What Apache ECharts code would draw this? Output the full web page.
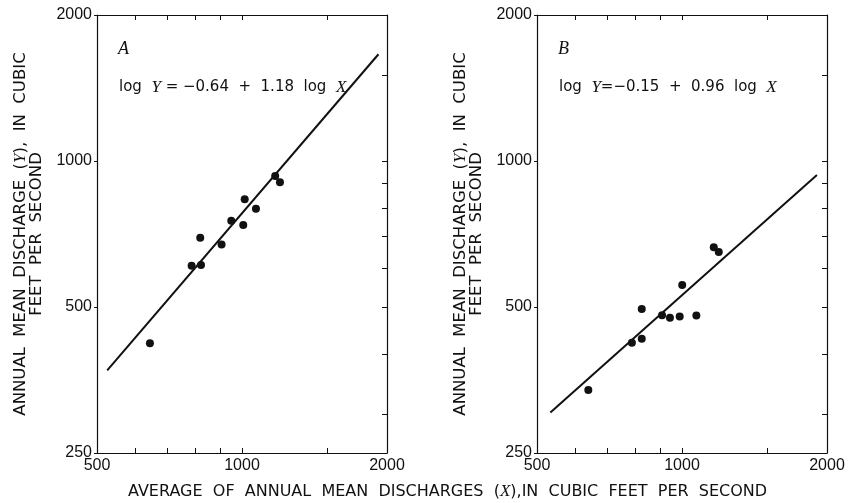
<!DOCTYPE html>
<html lang="en">
<head>
    <meta charset="UTF-8">
    <title>Annual mean discharge vs average of annual mean discharges</title>
    <script src="https://cdn.jsdelivr.net/npm/echarts@6/dist/echarts.min.js"></script>
    <style>
        body { margin: 0; padding: 0; background: #fff; }
        #main { width: 848px; height: 503px; }
    </style>
</head>
<body>
    <div id="main"></div>
    <script>
        // panel A points (X, Y) in cfs
        const pointsA = [
            [644, 421], [786, 608], [822, 610], [819, 695], [907, 673], [950, 753],
            [1006, 738], [1013, 834], [1069, 797], [1172, 931], [1199, 904]
        ];
        // panel B points
        const pointsB = [
            [639, 337], [787, 422], [825, 430], [825, 495], [909, 481], [944, 475],
            [989, 478], [1001, 555], [1071, 480], [1164, 664], [1192, 649]
        ];
        // fitted lines, ends as drawn
        const lineA = [[525, 370], [1920, 1660]];
        const lineB = [[533, 303], [1906, 936]];

        const xRange = [500, 2000];
        const yRange = [250, 2000];
        const xLabels = [500, 1000, 2000];
        const xTicks = [600, 700, 800, 900, 1000, 1500];
        const yLabels = [250, 500, 1000, 2000];
        const yTicks = [300, 400, 500, 600, 700, 800, 900, 1000, 1500];

        const ink = '#111';
        const numFont = 'Liberation Sans';
        const titleFont = 'DejaVu Sans';

        const yName = '{n|ANNUAL  MEAN  DISCHARGE  (}{i|Y}{n|),  IN  CUBIC}\n{n|FEET  PER  SECOND}';
        const nameRich = {
            n: { fontFamily: titleFont, fontSize: 16.5, color: ink, lineHeight: 16 },
            i: { fontFamily: 'Liberation Serif', fontStyle: 'italic', fontSize: 17, color: ink, lineHeight: 16 }
        };
        const plain = v => String(v);

        function xAxes(grid) {
            return [
                {
                    gridIndex: grid, type: 'log', logBase: 10, min: xRange[0], max: xRange[1],
                    axisLine: { lineStyle: { color: ink, width: 1.2 } },
                    axisTick: { inside: true, length: 5, customValues: xTicks, lineStyle: { color: ink } },
                    axisLabel: { customValues: xLabels, formatter: plain, color: ink, fontFamily: numFont, fontSize: 16, margin: 5 },
                    splitLine: { show: false }
                },
                {
                    gridIndex: grid, type: 'log', logBase: 10, min: xRange[0], max: xRange[1], position: 'top',
                    axisLine: { lineStyle: { color: ink, width: 1.2 } },
                    axisTick: { inside: true, length: 5, customValues: xTicks, lineStyle: { color: ink } },
                    axisLabel: { show: false }, splitLine: { show: false }
                }
            ];
        }
        function yAxes(grid) {
            return [
                {
                    gridIndex: grid, type: 'log', logBase: 10, min: yRange[0], max: yRange[1],
                    name: yName, nameLocation: 'middle', nameRotate: 90, nameGap: 52,
                    nameTextStyle: { rich: nameRich, align: 'center' },
                    axisLine: { lineStyle: { color: ink, width: 1.2 } },
                    axisTick: { inside: false, length: 3, customValues: yLabels, lineStyle: { color: ink } },
                    axisLabel: { customValues: yLabels, formatter: plain, color: ink, fontFamily: numFont, fontSize: 16, margin: 5 },
                    splitLine: { show: false }
                },
                {
                    gridIndex: grid, type: 'log', logBase: 10, min: yRange[0], max: yRange[1], position: 'right',
                    axisLine: { lineStyle: { color: ink, width: 1.2 } },
                    axisTick: { inside: true, length: 5, customValues: yTicks, lineStyle: { color: ink } },
                    axisLabel: { show: false }, splitLine: { show: false }
                }
            ];
        }

        function eqText(label, rest) {
            return {
                type: 'text', left: label.x, top: label.y,
                style: {
                    text: '{n|log  }{i|Y}{n|' + rest + '  log  }{i|X}',
                    rich: {
                        n: { fontFamily: titleFont, fontSize: 15, fill: ink },
                        i: { fontFamily: 'Liberation Serif', fontStyle: 'italic', fontSize: 17, fill: ink }
                    }
                }
            };
        }

        const chart = echarts.init(document.getElementById('main'));
        chart.setOption({
            animation: false,
            backgroundColor: '#fff',
            grid: [
                { left: 97, top: 15, width: 290, height: 438 },
                { left: 537, top: 15, width: 290, height: 438 }
            ],
            xAxis: xAxes(0).concat(xAxes(1)),
            yAxis: yAxes(0).concat(yAxes(1)),
            series: [
                { type: 'line', xAxisIndex: 0, yAxisIndex: 0, data: lineA, symbol: 'none',
                  lineStyle: { color: ink, width: 2 } },
                { type: 'scatter', xAxisIndex: 0, yAxisIndex: 0, data: pointsA, symbolSize: 8,
                  itemStyle: { color: ink, opacity: 1 } },
                { type: 'line', xAxisIndex: 2, yAxisIndex: 2, data: lineB, symbol: 'none',
                  lineStyle: { color: ink, width: 2 } },
                { type: 'scatter', xAxisIndex: 2, yAxisIndex: 2, data: pointsB, symbolSize: 8,
                  itemStyle: { color: ink, opacity: 1 } }
            ],
            graphic: [
                { type: 'text', left: 118, top: 40,
                  style: { text: 'A', font: 'italic 18px "Liberation Serif"', fill: ink } },
                { type: 'text', left: 558, top: 40,
                  style: { text: 'B', font: 'italic 18px "Liberation Serif"', fill: ink } },
                eqText({ x: 119, y: 79 }, ' = −0.64  +  1.18'),
                eqText({ x: 559, y: 79 }, '=−0.15  +  0.96'),
                {
                    type: 'text', left: 128, top: 483,
                    style: {
                        text: '{n|AVERAGE  OF  ANNUAL  MEAN  DISCHARGES  (}{i|X}{n|),IN  CUBIC  FEET  PER  SECOND}',
                        rich: {
                            n: { fontFamily: titleFont, fontSize: 16, fill: ink },
                            i: { fontFamily: 'Liberation Serif', fontStyle: 'italic', fontSize: 17, fill: ink }
                        }
                    }
                }
            ]
        });
    </script>
</body>
</html>
